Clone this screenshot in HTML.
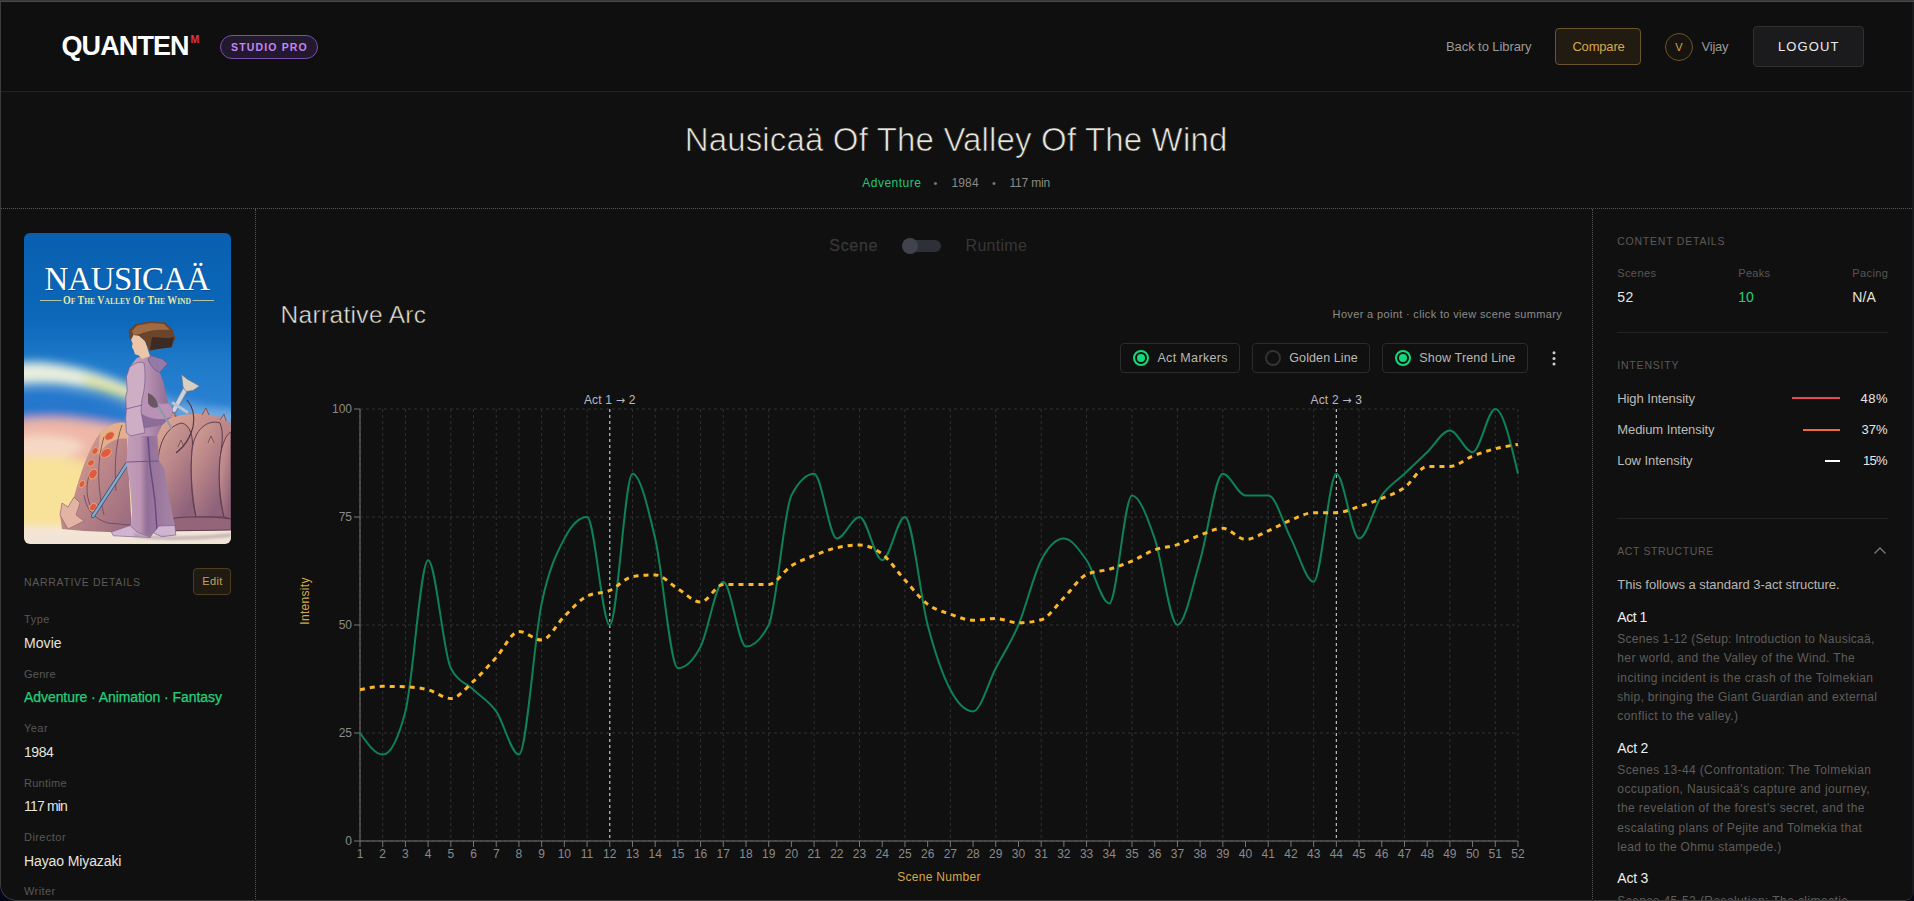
<!DOCTYPE html>
<html lang="en"><head><meta charset="utf-8"><title>Quanten – Nausicaä Of The Valley Of The Wind</title>
<style>
*{box-sizing:border-box;margin:0;padding:0}
html,body{width:1914px;height:901px;overflow:hidden;background:#06061a}
body{font-family:"Liberation Sans",sans-serif;color:#e6e4df;-webkit-font-smoothing:antialiased}
#app{position:absolute;left:0;top:0;width:1914px;height:901px;background:#101010;overflow:hidden;border-radius:0 0 9px 16px}
.abs{position:absolute;white-space:nowrap}
.hdr{position:absolute;left:0;top:0;width:1914px;height:92px;background:#0f0f10;border-bottom:1px solid #232323}
.logo{left:61.5px;top:30px;font-weight:700;font-size:27px;line-height:32px;letter-spacing:-.9px;color:#fff}
.logo sup{position:absolute;left:129px;top:3.5px;font-size:10.5px;line-height:10px;color:#e0334a;letter-spacing:0;font-weight:700}
.badge{left:220px;top:35px;width:98px;height:24px;border:1px solid #7a4fae;border-radius:12px;background:#23192e;color:#c585f2;font-size:10.5px;font-weight:700;letter-spacing:1.15px;line-height:22px;text-align:center;padding-left:1px}
.box{position:absolute;border-radius:4px}
.hline{position:absolute;left:1px;top:208px;width:1911px;height:0;border-top:1px dotted #555}
.vl{position:absolute;top:209px;width:0;height:692px;border-left:1px dotted #555}
.r{position:absolute;top:350px;width:16px;height:16px;border:2px solid #14d87c;border-radius:50%}
.r::after{content:"";position:absolute;left:2px;top:2px;width:8px;height:8px;border-radius:50%;background:#14d87c}
.r.off{border-color:#333}
.r.off::after{display:none}
.chart{position:absolute;left:0;top:0}
.chart .tk text{font-size:12px;fill:#8a8a8a;font-family:"Liberation Sans",sans-serif}
.chart .axl{font-size:12px;fill:#d4a84a;font-family:"Liberation Sans",sans-serif;letter-spacing:.3px}
.chart .act{font-size:12px;fill:#b6b9c4;font-family:"Liberation Sans",sans-serif;letter-spacing:.2px}
.chart .arr{font-family:"DejaVu Sans",sans-serif;font-size:11px}
.sep{position:absolute;left:1617px;width:271px;height:1px;background:#232323}
.frame{position:absolute;left:0;top:0;width:1914px;height:901px;pointer-events:none;border-radius:0 0 9px 16px;border-top:2px solid transparent;border-left:1px solid #3c3c3c;border-bottom:1px solid #3c3c3c;border-right:2px solid #1a1a1c}
</style></head><body>
<div id="app">
 <div class="hdr"></div>
 <div class="abs logo">QUANTEN<sup>M</sup></div>
 <div class="abs badge">STUDIO PRO</div>
 <div class="box" style="left:1555px;top:28px;width:86px;height:37px;border:1px solid #6a5527;background:#211b12"></div>
 <div class="box" style="left:1665px;top:33px;width:28px;height:28px;border:1px solid #6a5527;border-radius:50%;background:#17140f"></div>
 <div class="box" style="left:1753px;top:26px;width:111px;height:41px;border:1px solid #303032;background:#1b1b1d"></div>
 <div class="hline"></div>
 <div class="vl" style="left:255px"></div>
 <div class="vl" style="left:1592px"></div>
 <div class="abs" style="left:24px;top:233px;width:207px;height:311px;border-radius:6px;overflow:hidden"><svg width="207" height="311" viewBox="0 0 207 311" style="display:block">
<defs>
<linearGradient id="sky" x1="0" y1="0" x2="0" y2="1">
<stop offset="0" stop-color="#095fb0"/><stop offset=".28" stop-color="#0c68ba"/><stop offset=".42" stop-color="#1f7aca"/><stop offset=".55" stop-color="#2a80d2"/><stop offset=".6" stop-color="#5b9bda"/><stop offset=".66" stop-color="#e6b8a8"/><stop offset=".78" stop-color="#f6dba0"/><stop offset=".9" stop-color="#f5dfae"/><stop offset=".95" stop-color="#f3e6d6"/><stop offset="1" stop-color="#f1e4d6"/>
</linearGradient>
<filter id="b6" x="-30%" y="-60%" width="160%" height="220%"><feGaussianBlur stdDeviation="5"/></filter>
<filter id="b3" x="-30%" y="-60%" width="160%" height="220%"><feGaussianBlur stdDeviation="2.5"/></filter>
<filter id="b1"><feGaussianBlur stdDeviation=".8"/></filter>
<linearGradient id="ohm" x1="0" y1="0" x2="1" y2="1"><stop offset="0" stop-color="#e2b096"/><stop offset=".4" stop-color="#c48e8c"/><stop offset="1" stop-color="#97687e"/></linearGradient>
<linearGradient id="pl" x1="0" y1="0" x2=".6" y2="1"><stop offset="0" stop-color="#d6a294"/><stop offset=".5" stop-color="#b88488"/><stop offset="1" stop-color="#8e627a"/></linearGradient>
<linearGradient id="fig" x1="0" y1="0" x2="1" y2="0"><stop offset="0" stop-color="#cdaac0"/><stop offset=".5" stop-color="#b48eae"/><stop offset="1" stop-color="#86648e"/></linearGradient>
<linearGradient id="leg" x1="0" y1="0" x2="1" y2="0"><stop offset="0" stop-color="#cba8c0"/><stop offset=".45" stop-color="#ba94b2"/><stop offset=".55" stop-color="#927098"/><stop offset="1" stop-color="#a886a8"/></linearGradient>
</defs>
<rect width="207" height="311" fill="url(#sky)"/>
<g filter="url(#b6)">
<path d="M-10 130 C25 126 60 134 100 150 C112 155 124 159 136 162 L132 174 C118 172 106 168 95 164 C60 152 25 148 -10 152Z" fill="#e8eede"/>
<path d="M130 162 C160 170 190 176 215 178 L215 190 C185 188 155 182 128 174Z" fill="#8fc0ea" opacity=".55"/>
<path d="M60 142 C85 148 112 160 140 165 L140 172 C110 170 85 160 60 152Z" fill="#dfe08a" opacity=".8"/>
<path d="M-10 160 C30 158 70 166 110 178 L110 192 H-10Z" fill="#2277cc" opacity=".9"/>
<path d="M-10 188 C30 180 70 188 120 198 L120 232 H-10Z" fill="#eeb6a6"/>
<ellipse cx="18" cy="214" rx="42" ry="12" fill="#f6d8c6"/>
<path d="M-10 226 C30 218 70 228 100 244 L100 292 H-10Z" fill="#f8e299"/>
</g>
<!-- ohmu right body -->
<path d="M128 196 C138 186 152 182 168 181 C186 180 198 184 207 190 L207 297 L120 298Z" fill="url(#ohm)"/>
<g stroke="#5e3c50" stroke-width="1" stroke-linejoin="round">
<path d="M134 232 C134 206 146 192 158 190 C166 192 170 204 168 218 C166 246 168 268 172 284 L140 288 C136 268 134 250 134 232Z" fill="url(#pl)"/>
<path d="M168 218 C170 196 184 186 196 190 C200 200 198 212 196 226 C194 250 196 270 200 284 L172 284 C168 262 166 240 168 218Z" fill="url(#pl)"/>
<path d="M196 226 C198 208 204 200 207 199 L207 286 L200 284 C196 266 194 246 196 226Z" fill="url(#pl)"/>
<path d="M140 288 C150 284 162 284 172 284 C184 284 196 284 207 286 L207 297 L134 298Z" fill="#946478"/>
</g>
<path d="M146 184 L149 178 L152 184 M178 182 L182 175 L185 182 M196 187 L200 181 L202 188 M154 214 L157 207 L160 214 M184 210 L187 203 L190 210" fill="#c99384" stroke="#5e3c50" stroke-width=".7"/>
<!-- ohmu head (left) -->
<path d="M36 282 L38 270 L44 274 L50 264 C56 242 64 216 76 200 C84 192 94 188 102 190 L108 300 L60 298 L38 296Z" fill="url(#ohm)"/>
<path d="M76 200 C84 192 94 188 102 190 L104 206 C92 204 82 210 74 222Z" fill="#e4b08c"/>
<path d="M36 282 L38 270 L44 274 L50 264 L56 270 L52 282 L60 288 L44 296Z" fill="#e2b4a4" stroke="#8a5f66" stroke-width=".6"/>
<path d="M98 192 C92 208 90 232 92 258 M80 204 C72 230 74 258 80 282 M60 262 C62 276 70 286 84 290 L106 292 M66 240 C62 250 62 262 66 272" fill="none" stroke="#6a4458" stroke-width="1" opacity=".8"/>
<g fill="#de5a42" stroke="#eba868" stroke-width=".9">
<ellipse cx="85.5" cy="203" rx="5.4" ry="3.6" transform="rotate(-35 85.5 203)"/>
<ellipse cx="82" cy="220" rx="5.8" ry="3.8" transform="rotate(-30 82 220)"/>
<ellipse cx="71" cy="218" rx="3.8" ry="2.8" transform="rotate(-50 71 218)"/>
<ellipse cx="67" cy="230" rx="3.8" ry="2.8" transform="rotate(-40 67 230)"/>
<ellipse cx="69" cy="241" rx="5.2" ry="3.8" transform="rotate(-60 69 241)"/>
<ellipse cx="58" cy="251" rx="3.6" ry="2.6" transform="rotate(-60 58 251)"/>
<ellipse cx="69" cy="274" rx="4.2" ry="3.2" transform="rotate(-50 69 274)"/>
</g>
<!-- staff -->
<path d="M103 231 L69 283" stroke="#33506f" stroke-width="4" stroke-linecap="round"/>
<path d="M103 231 L69 283" stroke="#86aace" stroke-width="2.4" stroke-linecap="round"/>
<!-- gun + cable -->
<path d="M163 167 C169 174 171 184 169 194 C166 206 160 214 152 220" fill="none" stroke="#4a3540" stroke-width="1.1"/>
<path d="M161 157 L150 177" stroke="#6f7f98" stroke-width="6" stroke-linecap="round"/>
<path d="M161 157 L150 177" stroke="#c8d4e2" stroke-width="4" stroke-linecap="round"/>
<path d="M157.6 141.5 L163 146 L175.5 153 L169 157.5 L162 158.5 L159 154Z" fill="#d8cfc4" stroke="#6a6a78" stroke-width=".6"/>
<path d="M149 170 L163 179" stroke="#b8c4d6" stroke-width="3" stroke-linecap="round"/>
<!-- figure -->
<path d="M104.2 203 L103.3 221.6 L102.3 229 L106 251.5 L108 277.6 L107 292.5 L87.4 299 L89.3 302.8 L126.6 304.6 L129.4 300 L137.8 303.7 L151.8 302 L150.9 292.5 L145.3 266.4 L140.6 236.6 L135 227.2 L133.1 200Z" fill="url(#leg)"/>
<path d="M124 204 L126 232 L131 268 L133 298" fill="none" stroke="#5a3f7a" stroke-width="1.4" opacity=".85"/>
<path d="M102.5 229 L135 228" stroke="#6b4f8a" stroke-width=".9"/>
<path d="M87.4 299 L106 292.5 L113 299 L126.6 304.6 L89.3 302.8Z M129.4 300 L135 293 L150.9 292.5 L151.8 302 L137.8 303.7Z" fill="#d0b4d0" stroke="#6b4f8a" stroke-width=".5"/>
<path d="M112.5 125.2 L120 122 L127.3 122.8 L138.2 126 L143.6 130.6 L138.2 136.8 L135.8 139.2 L139.7 150 L142 161 L144.4 170.2 L149 176.5 L146.7 184.2 L138.2 192 L133 203 L104 203 L102.4 199.8 L101.6 185.8 L102.4 176.5 L101.6 164 L103.2 157.8 L102.4 143.8 L105.5 134.5Z" fill="url(#fig)"/>
<path d="M117 178 C126 186 138 189 147 184 L149 176.5 L144.4 170.2 C136 172 126 170 119 165Z" fill="#ba92b8"/>
<path d="M113.3 194.3 L122.6 195.1 L138.2 192 L146.7 184.2 C136 188 124 186 117 180Z" fill="#8e6c98"/>
<path d="M127.3 122.8 L138.2 126 L143.6 130.6 L138.2 136.8 L135.8 139.2 C130 138 126 132 124 126Z" fill="#937aa8" stroke="#5a4570" stroke-width=".5"/>
<path d="M105.5 134.5 C110 130 116 128 120 130 C122 142 121 156 118 166 L117 178 L121 199.8 L107 202.9 L102.4 199.8 L101.6 185.8 L102.4 176.5 L101.6 164 L103.2 157.8 L102.4 143.8Z" fill="#cdaec4" stroke="#6b4f8a" stroke-width=".6"/>
<path d="M102 176 L118 172" stroke="#6b4f8a" stroke-width=".7"/>
<path d="M133.5 171.8 L147.5 195" stroke="#8e98a8" stroke-width="2" stroke-linecap="round"/>
<path d="M124 160 C130 162 134 168 134 174 C130 176 126 174 124 170Z" fill="#6b5560"/>
<!-- head -->
<path d="M107 106.5 L109.4 101.9 L114.8 102.6 L121 108 L122.6 112 L124.2 117.7 L126 123 L118 126 L114.8 122.4 L111 121.3 L109.4 116.6 L107.9 114.3 L108.6 110.4Z" fill="#ecc6aa"/>
<path d="M105.5 106.5 L104.7 97.2 L111.7 91 L127.3 88.2 L141.3 89.4 L149 97.2 L151.4 105.7 L147.5 114.3 L135 115.8 L125.7 118.2 L122.6 112 L121 108 L114.8 102.6 L109.4 101.9 L107 106.5Z" fill="#6a452c"/>
<path d="M108 98 L113 92.5 L127 90 L140 91 L146 97 C136 96 124 97 116 101 L109.4 101.9Z" fill="#a06a42"/>
<path d="M128 104 C136 104 144 106 150 104 L147.5 114.3 L135 115.8 L126 117Z" fill="#3c2a24"/>
<path d="M110 300 C140 306 190 302 207 300 L207 304 C170 308 130 308 110 304Z" fill="#9c8e98" opacity=".5" filter="url(#b1)"/>
<!-- title -->
<g font-family="'Liberation Serif',serif" text-anchor="middle">
<text x="104" y="58.4" font-size="33" fill="#0a3a78" opacity=".55" letter-spacing="-.7" textLength="165" lengthAdjust="spacingAndGlyphs">NAUSICAÄ</text>
<text x="103" y="57.4" font-size="33" fill="#fdfdfb" letter-spacing="-.7" textLength="165" lengthAdjust="spacingAndGlyphs">NAUSICAÄ</text>
<text x="103" y="71.3" font-size="11.5" font-weight="700" fill="#e9e4a4" textLength="128" lengthAdjust="spacingAndGlyphs">O<tspan font-size="8.8">F</tspan> T<tspan font-size="8.8">HE</tspan> V<tspan font-size="8.8">ALLEY</tspan> O<tspan font-size="8.8">F</tspan> T<tspan font-size="8.8">HE</tspan> W<tspan font-size="8.8">IND</tspan></text>
</g>
<path d="M16 67.5 H37.5 M168.5 67.5 H190" stroke="#d9d9a0" stroke-width=".8"/>
</svg>
</div>
 <div class="box" style="left:193px;top:568px;width:38px;height:27px;border:1px solid #4a3d20;background:#1f1a12"></div>
 <div class="abs" style="left:903px;top:240px;width:38px;height:12px;border-radius:6px;background:#2e3038"></div>
 <div class="abs" style="left:902px;top:238px;width:16px;height:16px;border-radius:50%;background:#40434d"></div>
 <div class="box" style="left:1120px;top:343px;width:120px;height:30px;border:1px solid #2b2b2b"></div>
 <div class="box" style="left:1252px;top:343px;width:118px;height:30px;border:1px solid #2b2b2b"></div>
 <div class="box" style="left:1382px;top:343px;width:146px;height:30px;border:1px solid #2b2b2b"></div>
 <span class="r" style="left:1133px"></span><span class="r off" style="left:1265px"></span><span class="r" style="left:1395px"></span>
 <svg class="abs" style="left:1549px;top:349px" width="10" height="18" viewBox="0 0 10 18"><circle cx="5" cy="3.7" r="1.5" fill="#cfcfcf"/><circle cx="5" cy="9.4" r="1.5" fill="#cfcfcf"/><circle cx="5" cy="15" r="1.5" fill="#cfcfcf"/></svg>
 
<svg class="chart" width="1914" height="901" viewBox="0 0 1914 901">
 <g stroke="#303030" stroke-width="1" stroke-dasharray="3 3" fill="none"><line x1="360" y1="841.0" x2="1518" y2="841.0"/><line x1="360" y1="733.0" x2="1518" y2="733.0"/><line x1="360" y1="625.0" x2="1518" y2="625.0"/><line x1="360" y1="517.0" x2="1518" y2="517.0"/><line x1="360" y1="409.0" x2="1518" y2="409.0"/><line x1="360.00" y1="409" x2="360.00" y2="841"/><line x1="382.71" y1="409" x2="382.71" y2="841"/><line x1="405.41" y1="409" x2="405.41" y2="841"/><line x1="428.12" y1="409" x2="428.12" y2="841"/><line x1="450.82" y1="409" x2="450.82" y2="841"/><line x1="473.53" y1="409" x2="473.53" y2="841"/><line x1="496.24" y1="409" x2="496.24" y2="841"/><line x1="518.94" y1="409" x2="518.94" y2="841"/><line x1="541.65" y1="409" x2="541.65" y2="841"/><line x1="564.35" y1="409" x2="564.35" y2="841"/><line x1="587.06" y1="409" x2="587.06" y2="841"/><line x1="609.76" y1="409" x2="609.76" y2="841"/><line x1="632.47" y1="409" x2="632.47" y2="841"/><line x1="655.18" y1="409" x2="655.18" y2="841"/><line x1="677.88" y1="409" x2="677.88" y2="841"/><line x1="700.59" y1="409" x2="700.59" y2="841"/><line x1="723.29" y1="409" x2="723.29" y2="841"/><line x1="746.00" y1="409" x2="746.00" y2="841"/><line x1="768.71" y1="409" x2="768.71" y2="841"/><line x1="814.12" y1="409" x2="814.12" y2="841"/><line x1="859.53" y1="409" x2="859.53" y2="841"/><line x1="904.94" y1="409" x2="904.94" y2="841"/><line x1="950.35" y1="409" x2="950.35" y2="841"/><line x1="995.76" y1="409" x2="995.76" y2="841"/><line x1="1041.18" y1="409" x2="1041.18" y2="841"/><line x1="1086.59" y1="409" x2="1086.59" y2="841"/><line x1="1132.00" y1="409" x2="1132.00" y2="841"/><line x1="1177.41" y1="409" x2="1177.41" y2="841"/><line x1="1222.82" y1="409" x2="1222.82" y2="841"/><line x1="1268.24" y1="409" x2="1268.24" y2="841"/><line x1="1313.65" y1="409" x2="1313.65" y2="841"/><line x1="1359.06" y1="409" x2="1359.06" y2="841"/><line x1="1404.47" y1="409" x2="1404.47" y2="841"/><line x1="1449.88" y1="409" x2="1449.88" y2="841"/><line x1="1495.29" y1="409" x2="1495.29" y2="841"/><line x1="1518.00" y1="409" x2="1518.00" y2="841"/></g>
 <g stroke="#777" stroke-width="1" fill="none">
  <line x1="360" y1="409" x2="360" y2="841"/><line x1="360" y1="841" x2="1518" y2="841"/><line x1="360.00" y1="841" x2="360.00" y2="847"/><line x1="382.71" y1="841" x2="382.71" y2="847"/><line x1="405.41" y1="841" x2="405.41" y2="847"/><line x1="428.12" y1="841" x2="428.12" y2="847"/><line x1="450.82" y1="841" x2="450.82" y2="847"/><line x1="473.53" y1="841" x2="473.53" y2="847"/><line x1="496.24" y1="841" x2="496.24" y2="847"/><line x1="518.94" y1="841" x2="518.94" y2="847"/><line x1="541.65" y1="841" x2="541.65" y2="847"/><line x1="564.35" y1="841" x2="564.35" y2="847"/><line x1="587.06" y1="841" x2="587.06" y2="847"/><line x1="609.76" y1="841" x2="609.76" y2="847"/><line x1="632.47" y1="841" x2="632.47" y2="847"/><line x1="655.18" y1="841" x2="655.18" y2="847"/><line x1="677.88" y1="841" x2="677.88" y2="847"/><line x1="700.59" y1="841" x2="700.59" y2="847"/><line x1="723.29" y1="841" x2="723.29" y2="847"/><line x1="746.00" y1="841" x2="746.00" y2="847"/><line x1="768.71" y1="841" x2="768.71" y2="847"/><line x1="791.41" y1="841" x2="791.41" y2="847"/><line x1="814.12" y1="841" x2="814.12" y2="847"/><line x1="836.82" y1="841" x2="836.82" y2="847"/><line x1="859.53" y1="841" x2="859.53" y2="847"/><line x1="882.24" y1="841" x2="882.24" y2="847"/><line x1="904.94" y1="841" x2="904.94" y2="847"/><line x1="927.65" y1="841" x2="927.65" y2="847"/><line x1="950.35" y1="841" x2="950.35" y2="847"/><line x1="973.06" y1="841" x2="973.06" y2="847"/><line x1="995.76" y1="841" x2="995.76" y2="847"/><line x1="1018.47" y1="841" x2="1018.47" y2="847"/><line x1="1041.18" y1="841" x2="1041.18" y2="847"/><line x1="1063.88" y1="841" x2="1063.88" y2="847"/><line x1="1086.59" y1="841" x2="1086.59" y2="847"/><line x1="1109.29" y1="841" x2="1109.29" y2="847"/><line x1="1132.00" y1="841" x2="1132.00" y2="847"/><line x1="1154.71" y1="841" x2="1154.71" y2="847"/><line x1="1177.41" y1="841" x2="1177.41" y2="847"/><line x1="1200.12" y1="841" x2="1200.12" y2="847"/><line x1="1222.82" y1="841" x2="1222.82" y2="847"/><line x1="1245.53" y1="841" x2="1245.53" y2="847"/><line x1="1268.24" y1="841" x2="1268.24" y2="847"/><line x1="1290.94" y1="841" x2="1290.94" y2="847"/><line x1="1313.65" y1="841" x2="1313.65" y2="847"/><line x1="1336.35" y1="841" x2="1336.35" y2="847"/><line x1="1359.06" y1="841" x2="1359.06" y2="847"/><line x1="1381.76" y1="841" x2="1381.76" y2="847"/><line x1="1404.47" y1="841" x2="1404.47" y2="847"/><line x1="1427.18" y1="841" x2="1427.18" y2="847"/><line x1="1449.88" y1="841" x2="1449.88" y2="847"/><line x1="1472.59" y1="841" x2="1472.59" y2="847"/><line x1="1495.29" y1="841" x2="1495.29" y2="847"/><line x1="1518.00" y1="841" x2="1518.00" y2="847"/><line x1="354" y1="841.0" x2="360" y2="841.0"/><line x1="354" y1="733.0" x2="360" y2="733.0"/><line x1="354" y1="625.0" x2="360" y2="625.0"/><line x1="354" y1="517.0" x2="360" y2="517.0"/><line x1="354" y1="409.0" x2="360" y2="409.0"/>
 </g>
 <g class="tk" text-anchor="middle"><text x="360.00" y="858">1</text><text x="382.71" y="858">2</text><text x="405.41" y="858">3</text><text x="428.12" y="858">4</text><text x="450.82" y="858">5</text><text x="473.53" y="858">6</text><text x="496.24" y="858">7</text><text x="518.94" y="858">8</text><text x="541.65" y="858">9</text><text x="564.35" y="858">10</text><text x="587.06" y="858">11</text><text x="609.76" y="858">12</text><text x="632.47" y="858">13</text><text x="655.18" y="858">14</text><text x="677.88" y="858">15</text><text x="700.59" y="858">16</text><text x="723.29" y="858">17</text><text x="746.00" y="858">18</text><text x="768.71" y="858">19</text><text x="791.41" y="858">20</text><text x="814.12" y="858">21</text><text x="836.82" y="858">22</text><text x="859.53" y="858">23</text><text x="882.24" y="858">24</text><text x="904.94" y="858">25</text><text x="927.65" y="858">26</text><text x="950.35" y="858">27</text><text x="973.06" y="858">28</text><text x="995.76" y="858">29</text><text x="1018.47" y="858">30</text><text x="1041.18" y="858">31</text><text x="1063.88" y="858">32</text><text x="1086.59" y="858">33</text><text x="1109.29" y="858">34</text><text x="1132.00" y="858">35</text><text x="1154.71" y="858">36</text><text x="1177.41" y="858">37</text><text x="1200.12" y="858">38</text><text x="1222.82" y="858">39</text><text x="1245.53" y="858">40</text><text x="1268.24" y="858">41</text><text x="1290.94" y="858">42</text><text x="1313.65" y="858">43</text><text x="1336.35" y="858">44</text><text x="1359.06" y="858">45</text><text x="1381.76" y="858">46</text><text x="1404.47" y="858">47</text><text x="1427.18" y="858">48</text><text x="1449.88" y="858">49</text><text x="1472.59" y="858">50</text><text x="1495.29" y="858">51</text><text x="1518.00" y="858">52</text></g>
 <g class="tk" text-anchor="end"><text x="352" y="845.0">0</text><text x="352" y="737.0">25</text><text x="352" y="629.0">50</text><text x="352" y="521.0">75</text><text x="352" y="413.0">100</text></g>
 <text class="axl" x="939" y="881" text-anchor="middle">Scene Number</text>
 <text class="axl" transform="translate(309,601) rotate(-90)" text-anchor="middle">Intensity</text>
 <g stroke="#bdc0cc" stroke-width="1.2" stroke-dasharray="3 3">
  <line x1="609.76" y1="409" x2="609.76" y2="841"/><line x1="1336.35" y1="409" x2="1336.35" y2="841"/>
 </g>
 <text class="act" x="609.76" y="404" text-anchor="middle">Act 1 <tspan class="arr">→</tspan> 2</text>
 <text class="act" x="1336.35" y="404" text-anchor="middle">Act 2 <tspan class="arr">→</tspan> 3</text>
 <path d="M360.00,733.00C367.57,743.80,375.14,754.60,382.71,754.60C390.27,754.60,397.84,740.20,405.41,711.40C412.98,682.60,420.55,560.20,428.12,560.20C435.69,560.20,443.25,653.80,450.82,668.20C458.39,682.60,465.96,682.60,473.53,689.80C481.10,697.00,488.67,700.60,496.24,711.40C503.80,722.20,511.37,754.60,518.94,754.60C526.51,754.60,534.08,639.40,541.65,603.40C549.22,567.40,556.78,553.00,564.35,538.60C571.92,524.20,579.49,517.00,587.06,517.00C594.63,517.00,602.20,625.00,609.76,625.00C617.33,625.00,624.90,473.80,632.47,473.80C640.04,473.80,647.61,506.20,655.18,538.60C662.75,571.00,670.31,668.20,677.88,668.20C685.45,668.20,693.02,661.00,700.59,646.60C708.16,632.20,715.73,581.80,723.29,581.80C730.86,581.80,738.43,646.60,746.00,646.60C753.57,646.60,761.14,639.40,768.71,625.00C776.27,610.60,783.84,509.80,791.41,495.40C798.98,481.00,806.55,473.80,814.12,473.80C821.69,473.80,829.25,538.60,836.82,538.60C844.39,538.60,851.96,517.00,859.53,517.00C867.10,517.00,874.67,560.20,882.24,560.20C889.80,560.20,897.37,517.00,904.94,517.00C912.51,517.00,920.08,596.20,927.65,625.00C935.22,653.80,942.78,675.40,950.35,689.80C957.92,704.20,965.49,711.40,973.06,711.40C980.63,711.40,988.20,682.60,995.76,668.20C1003.33,653.80,1010.90,643.00,1018.47,625.00C1026.04,607.00,1033.61,574.60,1041.18,560.20C1048.75,545.80,1056.31,538.60,1063.88,538.60C1071.45,538.60,1079.02,549.40,1086.59,560.20C1094.16,571.00,1101.73,603.40,1109.29,603.40C1116.86,603.40,1124.43,495.40,1132.00,495.40C1139.57,495.40,1147.14,517.00,1154.71,538.60C1162.27,560.20,1169.84,625.00,1177.41,625.00C1184.98,625.00,1192.55,585.40,1200.12,560.20C1207.69,535.00,1215.25,473.80,1222.82,473.80C1230.39,473.80,1237.96,495.40,1245.53,495.40C1253.10,495.40,1260.67,495.40,1268.24,495.40C1275.80,495.40,1283.37,524.20,1290.94,538.60C1298.51,553.00,1306.08,581.80,1313.65,581.80C1321.22,581.80,1328.78,473.80,1336.35,473.80C1343.92,473.80,1351.49,538.60,1359.06,538.60C1366.63,538.60,1374.20,506.20,1381.76,495.40C1389.33,484.60,1396.90,481.00,1404.47,473.80C1412.04,466.60,1419.61,459.40,1427.18,452.20C1434.75,445.00,1442.31,430.60,1449.88,430.60C1457.45,430.60,1465.02,452.20,1472.59,452.20C1480.16,452.20,1487.73,409.00,1495.29,409.00C1502.86,409.00,1510.43,441.40,1518.00,473.80" fill="none" stroke="#0e8256" stroke-width="2" stroke-linejoin="round"/>
 <path d="M360.00,689.80C367.57,688.07,375.14,686.34,382.71,686.34C390.27,686.34,397.84,686.49,405.41,686.78C412.98,687.06,420.55,687.86,428.12,689.80C435.69,691.74,443.25,698.44,450.82,698.44C458.39,698.44,465.96,688.00,473.53,681.16C481.10,674.32,488.67,665.68,496.24,657.40C503.80,649.12,511.37,631.48,518.94,631.48C526.51,631.48,534.08,640.12,541.65,640.12C549.22,640.12,556.78,623.70,564.35,616.36C571.92,609.02,579.49,599.80,587.06,596.06C594.63,592.31,602.20,593.68,609.76,590.44C617.33,587.20,624.90,577.77,632.47,576.62C640.04,575.46,647.61,574.89,655.18,574.89C662.75,574.89,670.31,584.18,677.88,588.71C685.45,593.25,693.02,602.10,700.59,602.10C708.16,602.10,715.73,584.39,723.29,584.39C730.86,584.39,738.43,584.39,746.00,584.39C753.57,584.39,761.14,584.39,768.71,584.39C776.27,584.39,783.84,570.64,791.41,565.82C798.98,560.99,806.55,558.47,814.12,555.45C821.69,552.42,829.25,549.40,836.82,547.67C844.39,545.94,851.96,545.08,859.53,545.08C867.10,545.08,874.67,548.32,882.24,554.15C889.80,559.98,897.37,571.72,904.94,580.07C912.51,588.42,920.08,598.58,927.65,604.26C935.22,609.95,942.78,611.54,950.35,614.20C957.92,616.86,965.49,620.25,973.06,620.25C980.63,620.25,988.20,618.52,995.76,618.52C1003.33,618.52,1010.90,622.84,1018.47,622.84C1026.04,622.84,1033.61,621.83,1041.18,619.82C1048.75,617.80,1056.31,605.34,1063.88,597.78C1071.45,590.22,1079.02,577.91,1086.59,574.46C1094.16,571.00,1101.73,571.50,1109.29,569.27C1116.86,567.04,1124.43,564.30,1132.00,561.06C1139.57,557.82,1147.14,552.57,1154.71,549.83C1162.27,547.10,1169.84,547.10,1177.41,544.65C1184.98,542.20,1192.55,537.88,1200.12,535.14C1207.69,532.41,1215.25,528.23,1222.82,528.23C1230.39,528.23,1237.96,539.46,1245.53,539.46C1253.10,539.46,1260.67,534.06,1268.24,530.82C1275.80,527.58,1283.37,523.05,1290.94,520.02C1298.51,517.00,1306.08,512.68,1313.65,512.68C1321.22,512.68,1328.78,512.68,1336.35,512.68C1343.92,512.68,1351.49,509.01,1359.06,506.63C1366.63,504.26,1374.20,501.59,1381.76,498.42C1389.33,495.26,1396.90,492.95,1404.47,487.62C1412.04,482.30,1419.61,466.46,1427.18,466.46C1434.75,466.46,1442.31,466.46,1449.88,466.46C1457.45,466.46,1465.02,459.04,1472.59,456.09C1480.16,453.14,1487.73,450.69,1495.29,448.74C1502.86,446.80,1510.43,445.61,1518.00,444.42" fill="none" stroke="#fbb72c" stroke-width="3" stroke-dasharray="5 5" stroke-linejoin="round"/>
</svg>

 <div class="sep" style="top:332px"></div>
 <div class="abs" style="left:1792px;top:397px;width:48px;height:2px;background:#e5484d"></div>
 <div class="abs" style="left:1803px;top:429px;width:37px;height:2px;background:#f0693a"></div>
 <div class="abs" style="left:1825px;top:460px;width:15px;height:2px;background:#fff"></div>
 <div class="sep" style="top:518px"></div>
 <svg class="abs" style="left:1873px;top:546px" width="14" height="9" viewBox="0 0 14 9"><path d="M1.5 7.5 L7 2 L12.5 7.5" fill="none" stroke="#7a7a7a" stroke-width="1.3"/></svg>
 <div class="abs" id="t0" style="left:1446.00px;top:37.50px;font-size:13px;line-height:18px;color:#9b9995;letter-spacing:-0.079px;">Back to Library</div>
 <div class="abs" id="t1" style="left:1572.40px;top:37.50px;font-size:13px;line-height:18px;color:#d6a84c;letter-spacing:-0.178px;">Compare</div>
 <div class="abs" id="t2" style="left:1675.33px;top:39.50px;font-size:11px;line-height:15px;color:#d6a84c;">V</div>
 <div class="abs" id="t3" style="left:1701.50px;top:37.50px;font-size:13px;line-height:18px;color:#9b9995;letter-spacing:-0.213px;">Vijay</div>
 <div class="abs" id="t4" style="left:1778.00px;top:37.50px;font-size:13px;line-height:18px;color:#ececec;letter-spacing:1.099px;">LOGOUT</div>
 <div class="abs" id="t5" style="left:684.70px;top:117.50px;font-size:33px;line-height:44px;color:#e9e6df;letter-spacing:0.157px;-webkit-text-stroke:.7px #101010">Nausicaä Of The Valley Of The Wind</div>
 <div class="abs" id="t6" style="left:862.30px;top:174.50px;font-size:12px;line-height:17px;color:#22c578;letter-spacing:0.487px;">Adventure</div>
 <div class="abs" id="t7" style="left:933.57px;top:175.50px;font-size:11px;line-height:15px;color:#777;">•</div>
 <div class="abs" id="t8" style="left:951.50px;top:174.50px;font-size:12px;line-height:17px;color:#8b8985;letter-spacing:0.132px;">1984</div>
 <div class="abs" id="t9" style="left:992.07px;top:175.50px;font-size:11px;line-height:15px;color:#777;">•</div>
 <div class="abs" id="t10" style="left:1009.50px;top:174.50px;font-size:12px;line-height:17px;color:#8b8985;letter-spacing:-0.202px;">117 min</div>
 <div class="abs" id="t11" style="left:24.00px;top:574.50px;font-size:10.5px;line-height:15px;color:#5c5a57;letter-spacing:0.680px;">NARRATIVE DETAILS</div>
 <div class="abs" id="t12" style="left:202.20px;top:573.50px;font-size:11px;line-height:15px;color:#c9a052;letter-spacing:0.410px;">Edit</div>
 <div class="abs" id="t13" style="left:24.00px;top:611.80px;font-size:11px;line-height:15px;color:#595754;letter-spacing:0.514px;">Type</div>
 <div class="abs" id="t14" style="left:24.00px;top:633.30px;font-size:14px;line-height:20px;color:#e6e4df;letter-spacing:0.060px;">Movie</div>
 <div class="abs" id="t15" style="left:24.00px;top:667.00px;font-size:11px;line-height:15px;color:#595754;letter-spacing:0.255px;">Genre</div>
 <div class="abs" id="t16" style="left:24.00px;top:687.30px;font-size:14px;line-height:20px;color:#22d17c;letter-spacing:-0.070px;-webkit-text-stroke:.25px #22d17c">Adventure · Animation · Fantasy</div>
 <div class="abs" id="t17" style="left:24.00px;top:720.80px;font-size:11px;line-height:15px;color:#595754;letter-spacing:0.455px;">Year</div>
 <div class="abs" id="t18" style="left:24.00px;top:742.20px;font-size:14px;line-height:20px;color:#e6e4df;letter-spacing:-0.419px;">1984</div>
 <div class="abs" id="t19" style="left:24.00px;top:775.50px;font-size:11px;line-height:15px;color:#595754;letter-spacing:0.272px;">Runtime</div>
 <div class="abs" id="t20" style="left:24.00px;top:796.30px;font-size:14px;line-height:20px;color:#e6e4df;letter-spacing:-0.814px;">117 min</div>
 <div class="abs" id="t21" style="left:24.00px;top:829.50px;font-size:11px;line-height:15px;color:#595754;letter-spacing:0.441px;">Director</div>
 <div class="abs" id="t22" style="left:24.00px;top:851.00px;font-size:14px;line-height:20px;color:#e6e4df;letter-spacing:-0.110px;">Hayao Miyazaki</div>
 <div class="abs" id="t23" style="left:24.00px;top:883.80px;font-size:11px;line-height:15px;color:#595754;letter-spacing:0.392px;">Writer</div>
 <div class="abs" id="t24" style="left:829.30px;top:234.60px;font-size:16px;line-height:22px;color:#373737;letter-spacing:0.681px;-webkit-text-stroke:.3px #373737">Scene</div>
 <div class="abs" id="t25" style="left:965.60px;top:234.60px;font-size:16px;line-height:22px;color:#373737;letter-spacing:0.270px;">Runtime</div>
 <div class="abs" id="t26" style="left:280.50px;top:298.50px;font-size:24.5px;line-height:32px;color:#e9e6df;letter-spacing:0.334px;-webkit-text-stroke:.5px #101010">Narrative Arc</div>
 <div class="abs" id="t27" style="left:1332.60px;top:306.80px;font-size:11px;line-height:15px;color:#8d8b88;letter-spacing:0.348px;">Hover a point · click to view scene summary</div>
 <div class="abs" id="t28" style="left:1157.40px;top:349.00px;font-size:12.5px;line-height:18px;color:#bab8b4;letter-spacing:0.351px;">Act Markers</div>
 <div class="abs" id="t29" style="left:1289.30px;top:349.00px;font-size:12.5px;line-height:18px;color:#bab8b4;letter-spacing:0.098px;">Golden Line</div>
 <div class="abs" id="t30" style="left:1419.30px;top:349.00px;font-size:12.5px;line-height:18px;color:#bab8b4;letter-spacing:0.156px;">Show Trend Line</div>
 <div class="abs" id="t31" style="left:1617.20px;top:233.80px;font-size:10.5px;line-height:15px;color:#5c5a57;letter-spacing:0.774px;">CONTENT DETAILS</div>
 <div class="abs" id="t32" style="left:1617.20px;top:265.50px;font-size:11px;line-height:15px;color:#595754;letter-spacing:0.419px;">Scenes</div>
 <div class="abs" id="t33" style="left:1738.30px;top:265.50px;font-size:11px;line-height:15px;color:#595754;letter-spacing:0.255px;">Peaks</div>
 <div class="abs" id="t34" style="left:1852.20px;top:265.50px;font-size:11px;line-height:15px;color:#595754;letter-spacing:0.432px;">Pacing</div>
 <div class="abs" id="t35" style="left:1617.20px;top:287.00px;font-size:14px;line-height:20px;color:#e6e4df;letter-spacing:0.422px;">52</div>
 <div class="abs" id="t36" style="left:1738.30px;top:287.00px;font-size:14px;line-height:20px;color:#22d17c;letter-spacing:-0.178px;">10</div>
 <div class="abs" id="t37" style="left:1852.30px;top:287.00px;font-size:14px;line-height:20px;color:#e6e4df;letter-spacing:0.128px;">N/A</div>
 <div class="abs" id="t38" style="left:1617.20px;top:357.70px;font-size:10.5px;line-height:15px;color:#5c5a57;letter-spacing:0.820px;">INTENSITY</div>
 <div class="abs" id="t39" style="left:1617.20px;top:389.70px;font-size:13px;line-height:18px;color:#bdbbb6;letter-spacing:-0.074px;">High Intensity</div>
 <div class="abs" id="t40" style="left:1617.20px;top:420.70px;font-size:13px;line-height:18px;color:#bdbbb6;letter-spacing:-0.058px;">Medium Intensity</div>
 <div class="abs" id="t41" style="left:1617.20px;top:451.70px;font-size:13px;line-height:18px;color:#bdbbb6;letter-spacing:-0.040px;">Low Intensity</div>
 <div class="abs" id="t42" style="left:1860.60px;top:389.70px;font-size:13px;line-height:18px;color:#e8e6e2;letter-spacing:0.484px;">48%</div>
 <div class="abs" id="t43" style="left:1861.60px;top:420.70px;font-size:13px;line-height:18px;color:#e8e6e2;letter-spacing:-0.016px;">37%</div>
 <div class="abs" id="t44" style="left:1863.00px;top:451.70px;font-size:13px;line-height:18px;color:#e8e6e2;letter-spacing:-0.716px;">15%</div>
 <div class="abs" id="t45" style="left:1617.20px;top:543.50px;font-size:10.5px;line-height:15px;color:#5c5a57;letter-spacing:0.626px;">ACT STRUCTURE</div>
 <div class="abs" id="t46" style="left:1617.30px;top:575.60px;font-size:13px;line-height:18px;color:#b8b6b1;letter-spacing:-0.025px;">This follows a standard 3-act structure.</div>
 <div class="abs" id="t47" style="left:1617.30px;top:607.00px;font-size:14px;line-height:20px;color:#f0eee9;letter-spacing:-0.502px;">Act 1</div>
 <div class="abs" id="t48" style="left:1617.30px;top:631.10px;font-size:12px;line-height:17px;color:#5f5d59;letter-spacing:0.262px;">Scenes 1-12 (Setup: Introduction to Nausicaä,</div>
 <div class="abs" id="t49" style="left:1617.30px;top:650.35px;font-size:12px;line-height:17px;color:#5f5d59;letter-spacing:0.367px;">her world, and the Valley of the Wind. The</div>
 <div class="abs" id="t50" style="left:1617.30px;top:669.60px;font-size:12px;line-height:17px;color:#5f5d59;letter-spacing:0.401px;">inciting incident is the crash of the Tolmekian</div>
 <div class="abs" id="t51" style="left:1617.30px;top:688.85px;font-size:12px;line-height:17px;color:#5f5d59;letter-spacing:0.313px;">ship, bringing the Giant Guardian and external</div>
 <div class="abs" id="t52" style="left:1617.30px;top:708.10px;font-size:12px;line-height:17px;color:#5f5d59;letter-spacing:0.419px;">conflict to the valley.)</div>
 <div class="abs" id="t53" style="left:1617.30px;top:737.50px;font-size:14px;line-height:20px;color:#f0eee9;letter-spacing:-0.202px;">Act 2</div>
 <div class="abs" id="t54" style="left:1617.30px;top:761.90px;font-size:12px;line-height:17px;color:#5f5d59;letter-spacing:0.388px;">Scenes 13-44 (Confrontation: The Tolmekian</div>
 <div class="abs" id="t55" style="left:1617.30px;top:781.15px;font-size:12px;line-height:17px;color:#5f5d59;letter-spacing:0.415px;">occupation, Nausicaä's capture and journey,</div>
 <div class="abs" id="t56" style="left:1617.30px;top:800.40px;font-size:12px;line-height:17px;color:#5f5d59;letter-spacing:0.387px;">the revelation of the forest's secret, and the</div>
 <div class="abs" id="t57" style="left:1617.30px;top:819.65px;font-size:12px;line-height:17px;color:#5f5d59;letter-spacing:0.341px;">escalating plans of Pejite and Tolmekia that</div>
 <div class="abs" id="t58" style="left:1617.30px;top:838.90px;font-size:12px;line-height:17px;color:#5f5d59;letter-spacing:0.326px;">lead to the Ohmu stampede.)</div>
 <div class="abs" id="t59" style="left:1617.30px;top:868.30px;font-size:14px;line-height:20px;color:#f0eee9;letter-spacing:-0.202px;">Act 3</div>
 <div class="abs" id="t60" style="left:1617.30px;top:892.50px;font-size:12px;line-height:17px;color:#5f5d59;letter-spacing:0.404px;">Scenes 45-52 (Resolution: The climactic</div>
 <div class="frame"></div>
 <div style="position:absolute;left:0;top:0;width:1914px;height:1px;background:#383838"></div><div style="position:absolute;left:0;top:1px;width:1914px;height:1px;background:#484848"></div>
</div>
</body></html>
